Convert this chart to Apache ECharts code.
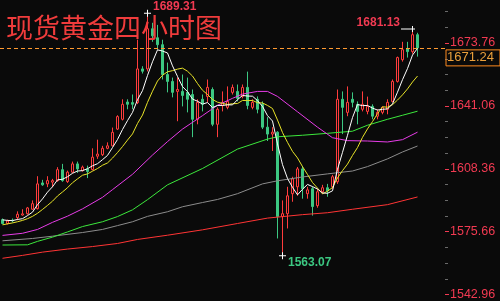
<!DOCTYPE html>
<html><head><meta charset="utf-8">
<script src="https://cdn.jsdelivr.net/npm/echarts@6/dist/echarts.min.js"></script>
<style>html,body{margin:0;padding:0;background:#0a0a0a}#c{width:500px;height:301px}</style>
</head><body><div id="c"></div>
<script>
const titleText = '现货黄金四小时图';
const categories = "1 2 3 4 5 6 7 8 9 10 11 12 13 14 15 16 17 18 19 20 21 22 23 24 25 26 27 28 29 30 31 32 33 34 35 36 37 38 39 40 41 42 43 44 45 46 47 48 49 50 51 52 53 54 55 56 57 58 59 60 61 62 63 64 65 66 67 68 69 70 71 72 73 74 75 76 77 78 79 80 81 82 83 84 85 86 87 88 89".split(' ');

const openP = [1581.9,1579.9,1581.6,1583.0,1584.3,1585.0,1587.3,1587.6,1601.0,1600.5,
1601.4,1602.2,1607.9,1601.7,1606.6,1610.9,1607.4,1608.3,1607.9,1614.9,
1615.7,1619.0,1620.3,1629.0,1634.1,1643.1,1642.8,1642.8,1660.3,1660.3,
1681.2,1676.5,1672.9,1657.4,1653.8,1648.6,1648.6,1648.1,1647.0,1634.1,
1644.5,1646.0,1649.6,1631.5,1641.3,1640.3,1648.1,1648.6,1646.0,1650.7,
1640.3,1644.5,1641.9,1630.0,1626.4,1627.4,1583.5,1585.0,1595.4,1599.0,
1608.3,1595.4,1598.0,1589.2,1596.4,1598.5,1599.0,1601.6,1644.5,1637.7,
1644.5,1641.9,1639.3,1638.2,1640.8,1635.7,1637.7,1639.3,1643.4,1653.8,
1665.1,1670.8,1669.3,1678.1];
const closeP = [1579.9,1581.2,1581.3,1584.7,1584.9,1588.0,1590.2,1600.5,1600.0,1602.2,
1602.2,1607.9,1602.2,1606.6,1610.9,1608.3,1609.2,1606.9,1614.4,1616.0,
1619.0,1620.3,1627.3,1635.5,1641.9,1641.9,1641.9,1660.3,1659.1,1681.2,
1677.5,1672.9,1657.4,1653.8,1648.1,1649.6,1646.5,1644.5,1634.1,1642.9,
1641.9,1650.7,1631.5,1639.3,1642.9,1643.4,1650.7,1645.0,1650.7,1641.3,
1642.9,1639.3,1630.0,1626.4,1627.4,1583.5,1585.0,1594.3,1603.1,1608.3,
1598.0,1597.4,1588.7,1596.4,1598.5,1596.9,1604.2,1644.5,1640.3,1642.9,
1642.9,1638.2,1641.9,1640.8,1635.7,1637.7,1640.3,1642.9,1653.8,1666.2,
1670.3,1669.3,1678.1,1671.24];
const lowP = [1579.5,1579.4,1580.5,1581.6,1584.0,1584.5,1587.1,1587.2,1599.5,1598.8,
1598.8,1601.6,1601.6,1601.0,1606.0,1606.2,1606.9,1603.5,1607.5,1613.5,
1615.0,1618.5,1620.0,1628.5,1633.5,1639.3,1639.3,1642.0,1657.9,1659.0,
1674.4,1670.3,1654.8,1648.1,1645.5,1633.1,1640.8,1637.7,1624.8,1631.5,
1638.2,1642.9,1630.5,1624.8,1638.2,1639.3,1647.0,1643.4,1645.0,1639.3,
1639.3,1637.2,1629.0,1622.8,1617.6,1572.1,1563.07,1577.3,1591.2,1594.3,
1592.8,1592.8,1584.0,1588.1,1595.4,1593.8,1598.0,1600.5,1626.4,1635.7,
1640.3,1631.5,1638.2,1636.7,1634.1,1634.1,1636.7,1636.7,1642.9,1653.2,
1664.1,1666.2,1668.2,1666.7];
const highP = [1582.5,1581.9,1582.5,1586.2,1587.3,1588.5,1591.9,1604.5,1602.6,1604.5,
1603.1,1609.2,1610.9,1607.4,1612.1,1612.1,1610.0,1610.0,1619.0,1623.5,
1620.3,1622.1,1629.8,1636.2,1644.5,1644.5,1647.0,1675.5,1661.7,1689.31,
1684.3,1683.2,1675.5,1663.6,1655.8,1655.8,1657.4,1655.8,1649.6,1644.5,
1647.0,1654.8,1650.7,1640.3,1648.6,1651.2,1652.2,1652.2,1652.2,1658.9,
1644.5,1646.0,1643.4,1635.2,1630.0,1627.9,1591.9,1599.0,1604.2,1609.3,
1609.8,1599.0,1599.0,1598.0,1600.0,1600.5,1605.2,1649.6,1648.6,1651.2,
1648.1,1643.4,1648.6,1645.9,1641.9,1639.3,1640.8,1644.5,1654.8,1666.7,
1674.4,1674.4,1681.13,1679.1];

const maWhite = [1581.8,1581.5,1581.4,1582.0,1582.4,1584.0,1585.8,1589.7,1592.7,1596.2,
1599.0,1602.6,1602.9,1604.2,1606.0,1607.2,1607.4,1608.4,1609.9,1611.0,
1613.1,1615.3,1619.4,1623.6,1628.8,1633.4,1637.7,1644.3,1649.0,1656.9,
1664.0,1670.2,1669.6,1668.6,1661.9,1656.4,1651.1,1648.5,1644.6,1643.5,
1642.0,1642.8,1640.2,1641.3,1641.3,1641.6,1641.6,1644.3,1646.5,1646.2,
1646.1,1643.8,1640.8,1636.0,1633.2,1621.3,1610.5,1603.3,1598.7,1594.8,
1597.7,1600.2,1599.1,1597.8,1595.8,1595.6,1596.9,1608.1,1616.9,1625.8,
1635.0,1641.8,1641.2,1641.3,1639.9,1638.9,1639.3,1639.5,1642.1,1648.2,
1654.7,1660.5,1667.5,1671.0];
const maYellow = [1579.2,1579.7,1580.2,1580.8,1581.5,1582.4,1583.6,1585.2,1587.2,1589.3,
1591.5,1594.2,1596.3,1598.5,1601.1,1603.1,1605.0,1605.7,1607.1,1608.5,
1610.2,1611.4,1613.9,1616.8,1619.9,1623.3,1626.5,1631.9,1636.3,1642.9,
1648.7,1654.0,1657.0,1658.8,1659.4,1660.2,1660.7,1659.1,1656.6,1652.7,
1649.2,1647.0,1644.4,1643.0,1642.4,1641.8,1642.2,1642.3,1643.9,1643.8,
1643.9,1642.7,1642.6,1641.3,1639.7,1633.7,1627.2,1622.1,1617.4,1614.0,
1609.5,1605.4,1601.2,1598.3,1595.3,1596.7,1598.6,1603.6,1607.4,1610.8,
1615.3,1619.4,1624.7,1629.1,1632.9,1637.0,1640.6,1640.4,1641.7,1644.1,
1646.8,1649.9,1653.5,1656.6];
const maMagenta = [[0,1573.7],[4,1574.8],[7,1576.8],[10,1580.5],[13,1583.7],[16,1587.5],[20,1593.5],[22,1597.5],[26,1605.5],[30,1615.5],[33,1622.5],[36,1629.0],[40,1636.0],[43,1641.4],[46,1645.0],[48,1647.2],[51,1648.6],[53,1648.6],[55,1646.0],[59,1638.0],[63,1630.0],[66,1624.5],[69,1623.0],[73,1622.8],[77,1622.3],[80,1623.5],[83,1627.4]];
const maGreen = [[0,1568.7],[5,1568.8],[7,1570.6],[10,1572.8],[13,1575.5],[16,1578.3],[20,1580.8],[23,1583.5],[26,1587.0],[29,1592.3],[33,1600.0],[40,1608.5],[47,1618.6],[53,1623.8],[55,1625.0],[60,1625.8],[65,1626.8],[70,1627.9],[73,1631.0],[77,1634.1],[80,1636.2],[83,1638.3]];
const maGray = [[0,1570.9],[6,1572.1],[10,1573.3],[16,1575.2],[20,1576.8],[23,1578.8],[26,1580.8],[29,1583.6],[33,1586.0],[36,1588.6],[40,1590.8],[43,1592.4],[47,1595.4],[52,1600.5],[55,1602.1],[60,1604.1],[65,1605.7],[70,1607.2],[73,1609.5],[77,1613.5],[80,1617.1],[83,1620.2]];
const maRed = [[0,1561.8],[4,1563.3],[8,1565.0],[13,1566.6],[18,1567.9],[23,1569.5],[27,1571.6],[33,1573.8],[40,1576.6],[47,1579.9],[53,1582.7],[60,1584.5],[65,1585.5],[70,1587.3],[77,1589.7],[83,1593.7]];

const axisLabelValues = [1542.96,1575.66,1608.36,1641.06,1673.76];
const minorTickValues = [1551.14,1559.31,1567.49,1583.84,1592.01,1600.19,1616.54,1624.71,1632.89,1649.24,1657.41,1665.59,1681.94,1690.11];
const lastPrice = 1671.24;
const peakIdx = 29, troughIdx = 56, recentPeakIdx = 82;

const RED = '#ff3c3c', GREEN = '#3cc882', LABEL_RED = '#f23a52';
const FONT = '"Liberation Sans", Arial, sans-serif';
const plus = 'path://M0,3H7V4H0Z M3,0H4V7H3Z';
const leftTick = 'path://M0,2.5H14V3.5H0Z M11,0H12V6H11Z';

const chart = echarts.init(document.getElementById('c'), null, {renderer: 'canvas'});
chart.setOption({
  animation: false,
  backgroundColor: '#0a0a0a',
  title: {text: titleText, left: 6, top: 14, padding: 0,
    textStyle: {color: '#f03c3c', fontSize: 27, fontWeight: 'normal', fontFamily: '"Noto Sans CJK SC"'}},
  grid: {left: 0, right: 55, top: 0, bottom: 0},
  xAxis: {type: 'category', data: categories, boundaryGap: true, show: false},
  yAxis: [{
    type: 'value', position: 'right', min: 1540.5, max: 1696.15,
    splitLine: {show: false}, axisLine: {show: false},
    axisTick: {show: true, customValues: axisLabelValues, length: 4, lineStyle: {color: LABEL_RED}},
    axisLabel: {customValues: axisLabelValues, formatter: v => v.toFixed(2), color: LABEL_RED,
      fontSize: 12.5, fontFamily: FONT, margin: 5}
  }, {
    type: 'value', position: 'right', min: 1540.5, max: 1696.15,
    splitLine: {show: false}, axisLine: {show: false},
    axisTick: {show: true, customValues: minorTickValues, length: 3, lineStyle: {color: '#6a6a6a'}},
    axisLabel: {show: false}
  }],
  series: [{
    type: 'candlestick',
    barWidth: 3,
    data: openP.map((o, i) => [o, closeP[i], lowP[i], highP[i]]),
    itemStyle: {color: 'transparent', color0: GREEN, borderColor: RED, borderColor0: GREEN, borderWidth: 1},
    markLine: {
      symbol: ['none', 'none'], silent: true, animation: false,
      data: [{yAxis: lastPrice}],
      lineStyle: {color: '#ff9a30', width: 1, type: [4, 3]},
      label: {show: true, position: 'end', formatter: lastPrice.toFixed(2), color: '#eaa03c',
        fontSize: 13, fontFamily: FONT, borderColor: '#ff8a1e', borderWidth: 1,
        padding: [2, 6, 1, 1], distance: 1, offset: [0, 10]}
    },
    markPoint: {
      silent: true, animation: false,
      data: [
        {coord: [categories[peakIdx], highP[peakIdx]], value: highP[peakIdx], symbol: plus, symbolSize: [7, 7],
          itemStyle: {color: '#ffffff'},
          label: {show: true, position: 'right', distance: 2, offset: [0, -6], color: LABEL_RED, fontSize: 12, fontWeight: 'bold', fontFamily: FONT, formatter: p => p.value.toFixed(2)}},
        {coord: [categories[recentPeakIdx], highP[recentPeakIdx]], value: highP[recentPeakIdx], symbol: leftTick, symbolSize: [14, 6], symbolOffset: [-4.5, 0],
          itemStyle: {color: '#ffffff'},
          label: {show: true, position: 'left', distance: 1, offset: [0, -6], color: LABEL_RED, fontSize: 12, fontWeight: 'bold', fontFamily: FONT, formatter: p => p.value.toFixed(2)}},
        {coord: [categories[troughIdx], lowP[troughIdx]], value: lowP[troughIdx], symbol: plus, symbolSize: [7, 7],
          itemStyle: {color: '#ffffff'},
          label: {show: true, position: 'right', distance: 2, offset: [0, 7], color: GREEN, fontSize: 12, fontWeight: 'bold', fontFamily: FONT, formatter: p => p.value.toFixed(2)}}
      ]
    }
  },
  {type: 'line', data: maRed, showSymbol: false, lineStyle: {color: '#ff3434', width: 1}},
  {type: 'line', data: maGray, showSymbol: false, lineStyle: {color: '#8c8c8c', width: 1}},
  {type: 'line', data: maGreen, showSymbol: false, lineStyle: {color: '#3ce83c', width: 1}},
  {type: 'line', data: maMagenta, showSymbol: false, lineStyle: {color: '#e83ce8', width: 1}},
  {type: 'line', data: maYellow, showSymbol: false, lineStyle: {color: '#e8e428', width: 1}},
  {type: 'line', data: maWhite, showSymbol: false, lineStyle: {color: '#ffffff', width: 1}}
  ]
});
</script></body></html>
